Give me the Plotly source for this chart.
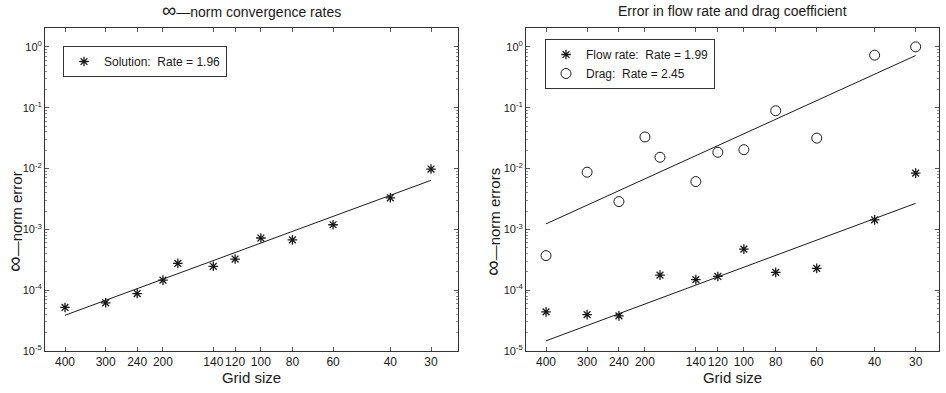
import numpy as np
import plotly.graph_objects as go

# ---- data ----
grid_left = [400, 300, 240, 200, 180, 140, 120, 100, 80, 60, 40, 30]
sol_err = [5.2e-5, 6.2e-5, 8.8e-5, 1.46e-4, 2.76e-4, 2.47e-4, 3.25e-4, 7.2e-4, 6.7e-4, 1.19e-3, 3.3e-3, 9.8e-3]
sol_fit_x = [400, 30]
sol_fit_y = [3.87e-5, 6.4e-3]

grid_flow = [400, 300, 240, 180, 140, 120, 100, 80, 60, 40, 30]
flow_err = [4.4e-5, 3.96e-5, 3.78e-5, 1.77e-4, 1.49e-4, 1.68e-4, 4.73e-4, 1.96e-4, 2.28e-4, 1.43e-3, 8.4e-3]
flow_fit_x = [400, 30]
flow_fit_y = [1.47e-5, 2.68e-3]

grid_drag = [400, 300, 240, 200, 180, 140, 120, 100, 80, 60, 40, 30]
drag_err = [3.7e-4, 8.7e-3, 2.86e-3, 3.3e-2, 1.53e-2, 6.1e-3, 1.85e-2, 2.04e-2, 8.9e-2, 3.16e-2, 0.73, 1.0]
drag_fit_x = [400, 30]
drag_fit_y = [1.23e-3, 0.72]

xtick_vals = [400, 300, 240, 200, 140, 120, 100, 80, 60, 40, 30]
xtick_text = [str(v) for v in xtick_vals]
ytick_exps = [-5, -4, -3, -2, -1, 0]
ytick_vals = [10.0 ** e for e in ytick_exps]
ytick_text = ["10<sup>%d</sup>" % e for e in ytick_exps]

FONT = "Liberation Sans, Arial, Helvetica, sans-serif"
INK = "#1a1a1a"

fig = go.Figure()

star = dict(symbol="asterisk-open", size=8, color=INK, line=dict(color=INK, width=1.3))
circ = dict(symbol="circle-open", size=10, color=INK, line=dict(color=INK, width=1))

fig.add_trace(go.Scatter(x=grid_left, y=sol_err, mode="markers", marker=star,
                         name="Solution:  Rate = 1.96", xaxis="x", yaxis="y", legend="legend"))
fig.add_trace(go.Scatter(x=sol_fit_x, y=sol_fit_y, mode="lines", line=dict(color=INK, width=1),
                         showlegend=False, xaxis="x", yaxis="y"))

fig.add_trace(go.Scatter(x=grid_flow, y=flow_err, mode="markers", marker=star,
                         name="Flow rate:  Rate = 1.99", xaxis="x2", yaxis="y2", legend="legend2"))
fig.add_trace(go.Scatter(x=grid_drag, y=drag_err, mode="markers", marker=circ,
                         name="Drag:  Rate = 2.45", xaxis="x2", yaxis="y2", legend="legend2"))
fig.add_trace(go.Scatter(x=flow_fit_x, y=flow_fit_y, mode="lines", line=dict(color=INK, width=1),
                         showlegend=False, xaxis="x2", yaxis="y2"))
fig.add_trace(go.Scatter(x=drag_fit_x, y=drag_fit_y, mode="lines", line=dict(color=INK, width=1),
                         showlegend=False, xaxis="x2", yaxis="y2"))

L, R, T, B = 45, 7, 28, 42
W, H = 946, 393
pw = W - L - R
ph = H - T - B


def xax(domain, rng):
    return dict(domain=domain, type="log", range=rng, tickvals=xtick_vals, ticktext=xtick_text,
                tickangle=0,
                ticks="inside", ticklen=4, tickcolor="#555", mirror="ticks", showline=True,
                linecolor="#333", linewidth=1, showgrid=False, zeroline=False,
                tickfont=dict(size=12, color=INK, family=FONT),
                title=dict(text="Grid size", font=dict(size=15, color=INK, family=FONT), standoff=2))


def yax(anchor):
    return dict(anchor=anchor, type="log", range=[-5, 0.31], tickvals=ytick_vals, ticktext=ytick_text,
                ticks="inside", ticklen=4, tickcolor="#555", mirror="ticks", showline=True,
                linecolor="#333", linewidth=1, showgrid=False, zeroline=False,
                minor=dict(ticks="inside", ticklen=2, tickcolor="#888", dtick="D1", showgrid=False),
                tickfont=dict(size=11, color=INK, family=FONT))


d1 = [0, 413 / pw]
d2 = [(526 - L) / pw, 1]

INF = '<span style="font-size:22px">∞</span>'
ytitle_y = (H - B - 222) / ph  # vertical centre of the rotated titles

fig.update_layout(
    width=W, height=H, margin=dict(l=L, r=R, t=T, b=B),
    paper_bgcolor="white", plot_bgcolor="white",
    font=dict(family=FONT, color=INK),
    xaxis=xax(d1, [np.log10(400) + 0.0615, np.log10(30) - 0.083]),
    yaxis=yax("x"),
    xaxis2=xax(d2, [np.log10(400) + 0.061, np.log10(30) - 0.071]),
    yaxis2=yax("x2"),
    legend=dict(x=(63 - L) / pw, y=1 - 18 / ph, xanchor="left", yanchor="top",
                bordercolor="#333", borderwidth=1, bgcolor="white",
                font=dict(size=12, color=INK, family=FONT), itemwidth=30,
                tracegroupgap=0),
    legend2=dict(x=(545 - L) / pw, y=1 - 11 / ph, xanchor="left", yanchor="top",
                 bordercolor="#333", borderwidth=1, bgcolor="white",
                 font=dict(size=12, color=INK, family=FONT), itemwidth=30,
                 tracegroupgap=0),
    annotations=[
        dict(text='<span style="font-size:20px">∞</span>—norm convergence rates',
             x=(d1[0] + d1[1]) / 2, y=1, xref="paper", yref="paper", xanchor="center",
             yshift=5, yanchor="bottom", showarrow=False, font=dict(size=14, color=INK, family=FONT)),
        dict(text="Error in flow rate and drag coefficient", x=(d2[0] + d2[1]) / 2, y=1, xref="paper",
             yref="paper", xanchor="center", yshift=7, yanchor="bottom", showarrow=False,
             font=dict(size=14, color=INK, family=FONT)),
        dict(text=INF + "—norm error", textangle=-90, x=(14 - L) / pw, y=ytitle_y,
             xref="paper", yref="paper", xanchor="center", yanchor="middle", showarrow=False,
             font=dict(size=15, color=INK, family=FONT)),
        dict(text=INF + "—norm errors", textangle=-90, x=(492 - L) / pw, y=ytitle_y,
             xref="paper", yref="paper", xanchor="center", yanchor="middle", showarrow=False,
             font=dict(size=15, color=INK, family=FONT)),
    ],
)

fig.write_html("out.html")
